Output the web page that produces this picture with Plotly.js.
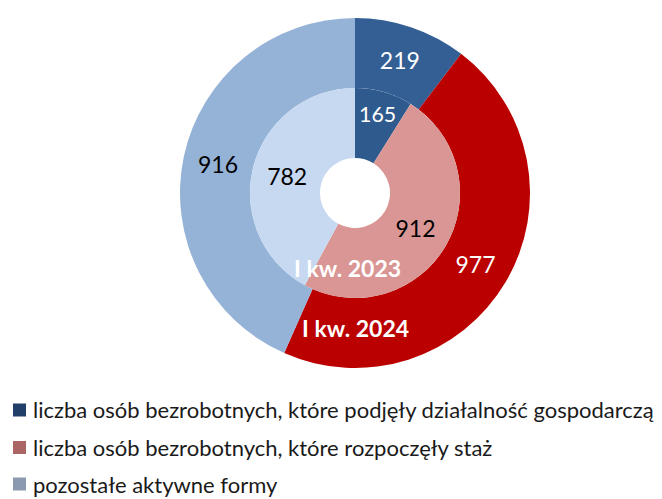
<!DOCTYPE html>
<html><head><meta charset="utf-8">
<script src="https://cdn.plot.ly/plotly-3.0.1.min.js"></script>
<style>html,body{margin:0;padding:0;background:#fff}#c{width:662px;height:499px}</style>
</head><body><div id="c"></div>
<script>
const categories = [
  "liczba osób bezrobotnych, które podjęły działalność gospodarczą",
  "liczba osób bezrobotnych, które rozpoczęły staż",
  "pozostałe aktywne formy"
];
const values2024 = [219, 977, 916];
const values2023 = [165, 912, 782];
const ringLabels = ["I kw. 2023", "I kw. 2024"];

const W = 662, H = 499;
const cx = 355, cy = 193; // px from top-left
const rOut = 175, rIn = 105;
function dom(r){
  return {x:[(cx-r)/W,(cx+r)/W], y:[(H-cy-r)/H,(H-cy+r)/H]};
}
const fontFam = 'Lato, "Open Sans", sans-serif';
const legendColors = ['#213f69','#ab6565','#8c9ab0'];

const outer = {
  type:'pie', values: values2024, labels: categories, sort:false,
  direction:'clockwise', rotation:0, hole: rIn/rOut, domain: dom(rOut),
  marker:{colors:['#335f95','#bb0000','#95b3d7'], line:{width:0}},
  textinfo:'value', textposition:'inside', insidetextorientation:'horizontal',
  textfont:{family:fontFam, size:23, color:['#ffffff','#ffffff','#000000']},
  hoverinfo:'label+value', showlegend:false, name:ringLabels[1]
};
const inner = {
  type:'pie', values: values2023, labels: categories, sort:false,
  direction:'clockwise', rotation:0, hole: 35/rIn, domain: dom(rIn),
  marker:{colors:['#2f5a8e','#d99694','#c6d9f1'], line:{width:0}},
  textinfo:'value', textposition:'inside', insidetextorientation:'horizontal',
  textfont:{family:fontFam, size:23, color:['#ffffff','#000000','#000000']},
  hoverinfo:'label+value', showlegend:false, name:ringLabels[0]
};

// custom legend (rows from top, px)
const rowY = [410, 447.5, 484];
const shapes = categories.map((c,i)=>({
  type:'rect', xref:'paper', yref:'paper',
  x0:13/W, x1:26/W, y0:(H-rowY[i]-6.5)/H, y1:(H-rowY[i]+6.5)/H,
  fillcolor:legendColors[i], line:{width:0}
}));
const legendAnn = categories.map((c,i)=>({
  text:c, xref:'paper', yref:'paper', x:31/W, y:(H-rowY[i])/H,
  xanchor:'left', yanchor:'middle', showarrow:false,
  font:{family:fontFam, size:22, color:'#1a1a1a'}
}));

const layout = {
  width:W, height:H, margin:{l:0,r:0,t:0,b:0},
  paper_bgcolor:'#fff', plot_bgcolor:'#fff',
  showlegend:false,
  shapes: shapes,
  annotations:[
    {text:'<b>'+ringLabels[0]+'</b>', x:347/W, y:(H-268)/H, xref:'paper', yref:'paper',
     showarrow:false, font:{family:fontFam, size:23, color:'#ffffff'}},
    {text:'<b>'+ringLabels[1]+'</b>', x:355/W, y:(H-328)/H, xref:'paper', yref:'paper',
     showarrow:false, font:{family:fontFam, size:23, color:'#ffffff'}}
  ].concat(legendAnn)
};
Plotly.newPlot('c', [outer, inner], layout, {displayModeBar:false, staticPlot:true});
</script></body></html>
